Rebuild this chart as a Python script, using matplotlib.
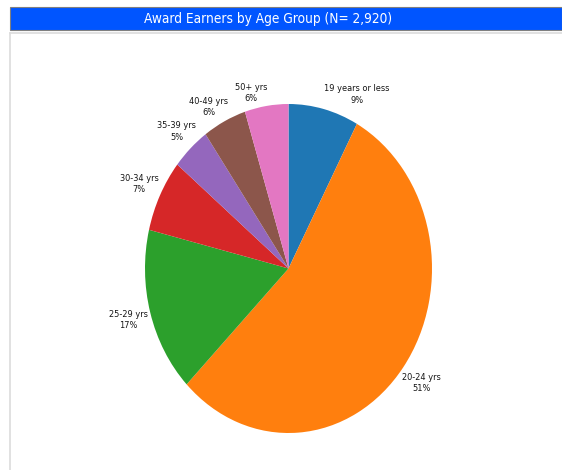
import numpy as np
import matplotlib
matplotlib.use("Agg")
import matplotlib.pyplot as plt
from matplotlib.patches import Rectangle
from matplotlib.lines import Line2D

title = "Award Earners by Age Group (N= 2,920)"
categories = ["19 years or less", "20-24 yrs", "25-29 yrs", "30-34 yrs",
              "35-39 yrs", "40-49 yrs", "50+ yrs"]
# wedge sizes as drawn in the reference (percent of total)
shares = [7.9, 54.6, 16.2, 7.1, 4.3, 4.9, 4.9]
# percentage labels as printed in the reference
pct_labels = ["9%", "51%", "17%", "7%", "5%", "6%", "6%"]
colors = ["#1f77b4", "#ff7f0e", "#2ca02c", "#d62728",
          "#9467bd", "#8c564b", "#e377c2"]
label_nudge_deg = [10, 0, 0, 0, 0, -3, -5]
label_radius = [1.16, 1.16, 1.16, 1.16, 1.14, 1.13, 1.10]

W, H = 562, 470
fig = plt.figure(figsize=(W / 100, H / 100), dpi=100)
fig.patch.set_facecolor("white")

# title bar
bar_l, bar_t, bar_b = 10, 7, 30
fig.add_artist(Rectangle((bar_l / W, 1 - bar_b / H), (W - bar_l) / W, (bar_b - bar_t) / H,
                         transform=fig.transFigure, facecolor="#0055ff",
                         edgecolor="#808080", linewidth=0.8))
fig.text(268 / W, 1 - 18.5 / H, title, color="white", fontsize=9.8,
         ha="center", va="center", family="DejaVu Sans", fontstretch="condensed")

# light frame below the bar
fig.add_artist(Line2D([bar_l / W, 1], [1 - 33 / H, 1 - 33 / H], transform=fig.transFigure,
                      color="#dcdcdc", linewidth=1.2))
fig.add_artist(Line2D([bar_l / W, bar_l / W], [0, 1 - 33 / H], transform=fig.transFigure,
                      color="#dcdcdc", linewidth=1.2))

# pie axes: ellipse bounding box
cx, cy, rx, ry = 288.5, 268.5, 143.5, 164.5
ax = fig.add_axes([(cx - rx) / W, 1 - (cy + ry) / H, 2 * rx / W, 2 * ry / H])
wedges, _ = ax.pie(shares, colors=colors, startangle=90, counterclock=False,
                   radius=1.0, wedgeprops=dict(linewidth=0))
ax.set_aspect("auto")
ax.set_xlim(-1, 1)
ax.set_ylim(-1, 1)
ax.axis("off")

for w, cat, pct, nudge, rlab in zip(wedges, categories, pct_labels,
                                    label_nudge_deg, label_radius):
    mid = np.deg2rad((w.theta1 + w.theta2) / 2 - nudge)
    x = rlab * np.cos(mid)
    y = rlab * np.sin(mid)
    ax.text(x, y, f"{cat}\n{pct}", ha="center", va="center", fontsize=6.6,
            color="#151515", linespacing=1.3, clip_on=False,
            family="DejaVu Sans", fontstretch="condensed")

fig.savefig("out.png", dpi=100)
